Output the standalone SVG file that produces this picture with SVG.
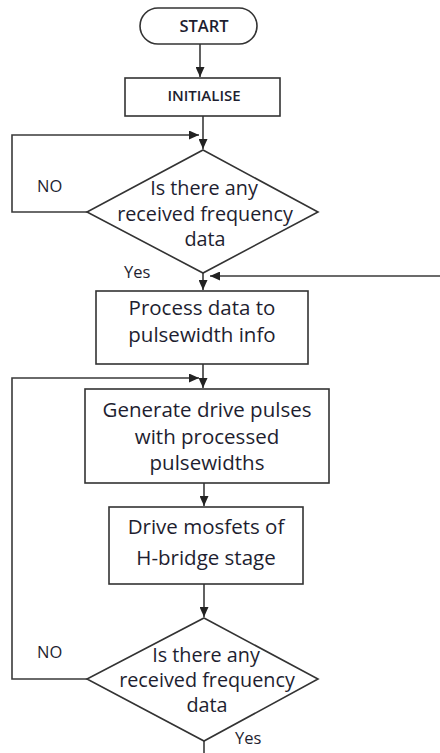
<svg xmlns="http://www.w3.org/2000/svg" width="440" height="753" viewBox="0 0 440 753">
<style>
.shape{fill:#fff;stroke:#333;stroke-width:1.6}
.line{fill:none;stroke:#3a3a3a;stroke-width:1.6}
.t{font-family:"Open Sans","Noto Sans",sans-serif;font-size:20.5px;fill:#1e1e30;text-anchor:middle}
.d{font-family:"Open Sans","Noto Sans",sans-serif;font-size:19.8px;fill:#1e1e30;text-anchor:middle}
.lbl{font-family:"Open Sans","Noto Sans",sans-serif;font-size:16.5px;fill:#1e1e30}
.b{font-family:"Open Sans","Noto Sans",sans-serif;font-weight:600;fill:#1e1e30;text-anchor:middle}
</style>
<defs>
<marker id="ah" markerWidth="10" markerHeight="9" refX="10" refY="4.5" orient="auto" markerUnits="userSpaceOnUse">
<path d="M0,0 L10,4.5 L0,9 z" fill="#222"/>
</marker>
</defs>
<rect width="440" height="753" fill="#fff"/>
<g id="connectors">
<path class="line" d="M200,44 V77" marker-end="url(#ah)"/>
<path class="line" d="M203,116 V149" marker-end="url(#ah)"/>
<path class="line" d="M87,212 H12 V135 H199" marker-end="url(#ah)"/>
<path class="line" d="M203,273 V290" marker-end="url(#ah)"/>
<path class="line" d="M442,276 H210" marker-end="url(#ah)"/>
<path class="line" d="M203,364 V388" marker-end="url(#ah)"/>
<path class="line" d="M87,679 H12 V378 H199" marker-end="url(#ah)"/>
<path class="line" d="M204,483 V506" marker-end="url(#ah)"/>
<path class="line" d="M204,584 V617" marker-end="url(#ah)"/>
<path class="line" d="M204,741 V753"/>
</g>
<g id="start">
<rect class="shape" x="140" y="8" width="117" height="36" rx="18" ry="18"/>
<text class="b" x="204" y="32" font-size="16.5">START</text>
</g>
<g id="initialise">
<rect class="shape" x="125" y="78" width="155" height="38"/>
<text class="b" x="204" y="101" font-size="15">INITIALISE</text>
</g>
<g id="decision1">
<polygon class="shape" points="203,150 318,212 203,273 87,212"/>
<text class="d" x="204" y="195">Is there any</text>
<text class="d" x="205" y="221">received frequency</text>
<text class="d" x="205" y="246">data</text>
<text class="lbl" x="37" y="192">NO</text>
<text class="lbl" x="124" y="278" font-size="17.5">Yes</text>
</g>
<g id="process">
<rect class="shape" x="96" y="291" width="212" height="73"/>
<text class="t" x="202" y="315">Process data to</text>
<text class="t" x="202" y="342">pulsewidth info</text>
</g>
<g id="generate">
<rect class="shape" x="85" y="389" width="244" height="94"/>
<text class="t" x="207" y="417">Generate drive pulses</text>
<text class="t" x="207" y="444">with processed</text>
<text class="t" x="207" y="470">pulsewidths</text>
</g>
<g id="drive">
<rect class="shape" x="109" y="507" width="194" height="77"/>
<text class="t" x="206" y="534">Drive mosfets of</text>
<text class="t" x="206" y="565">H-bridge stage</text>
</g>
<g id="decision2">
<polygon class="shape" points="204,618 318,679 204,741 87,679"/>
<text class="d" x="206" y="662">Is there any</text>
<text class="d" x="207" y="687">received frequency</text>
<text class="d" x="207" y="712">data</text>
<text class="lbl" x="37" y="658">NO</text>
<text class="lbl" x="235" y="744" font-size="17.5">Yes</text>
</g>
</svg>
